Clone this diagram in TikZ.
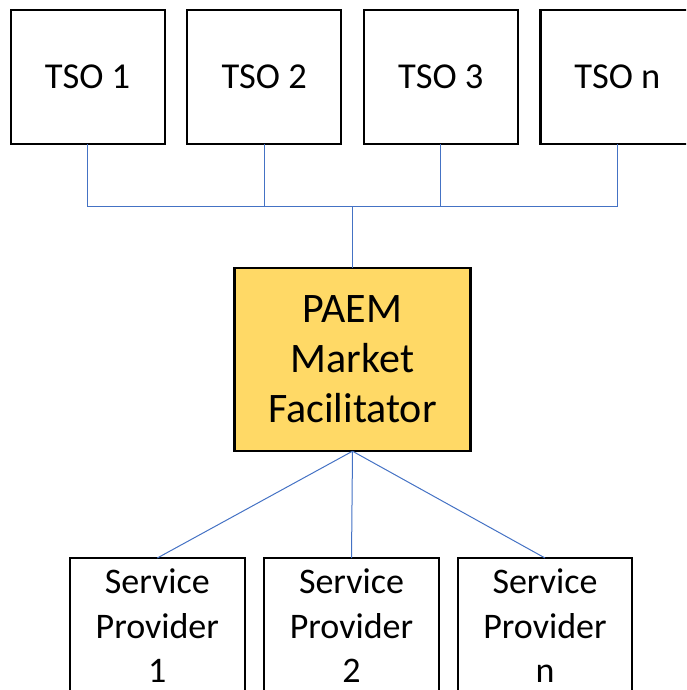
\documentclass[tikz,border=0pt]{standalone}
\usepackage{fontspec}
\setmainfont{Carlito}
\definecolor{conncol}{HTML}{4472C4}
\definecolor{paemfill}{HTML}{FFD966}
\begin{document}
\begin{tikzpicture}[x=1pt,y=-1pt,
  tsobox/.style={draw=black, line width=2.2pt, minimum width=154pt, minimum height=134pt, inner sep=0pt, outer sep=0pt, font=\fontsize{36.5}{44}\selectfont},
  paembox/.style={draw=black, fill=paemfill, line width=2.2pt, minimum width=236pt, minimum height=183.4pt, inner sep=0pt, outer sep=0pt, align=center, font=\fontsize{42}{50}\selectfont},
  spbox/.style={draw=black, line width=2.2pt, minimum width=174.7pt, minimum height=136pt, inner sep=0pt, outer sep=0pt, align=center, font=\fontsize{36}{44.5}\selectfont},
  conn/.style={draw=conncol, line width=1pt}]
\useasboundingbox (0,0) rectangle (686,690);
\clip (0,0) rectangle (686,690);
\node[tsobox] (t1) at (87.6,76.8) {TSO 1};
\node[tsobox] (t2) at (264.2,76.8) {TSO 2};
\node[tsobox] (t3) at (440.8,76.8) {TSO 3};
\node[tsobox] (tn) at (617.4,76.8) {TSO n};
\node[paembox] (paem) at (352.5,359.5) {PAEM\\Market\\Facilitator};
\node[spbox] (s1) at (157.3,626) {Service\\Provider\\1};
\node[spbox] (s2) at (351.5,626) {Service\\Provider\\2};
\node[spbox] (sn) at (545,626) {Service\\Provider\\n};
\coordinate (bus) at (352.5,206);
\draw[conn] (t1.south) |- (bus);
\draw[conn] (tn.south) |- (bus);
\draw[conn] (t2.south) |- (bus);
\draw[conn] (t3.south) |- (bus);
\draw[conn] (bus) -- (paem.north);
\draw[conn] (paem.south) -- (s1.north);
\draw[conn] (paem.south) -- (s2.north);
\draw[conn] (paem.south) -- (sn.north);
\end{tikzpicture}
\end{document}
